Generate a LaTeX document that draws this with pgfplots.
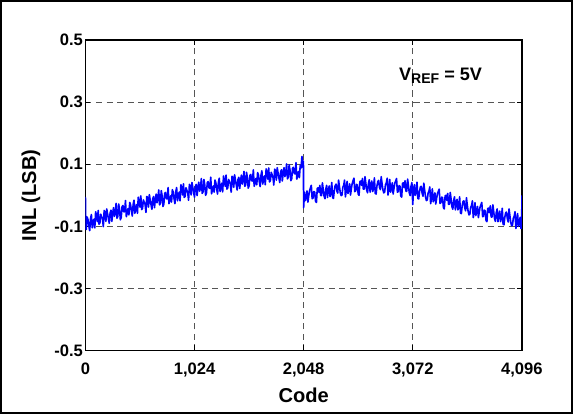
\documentclass[border=0pt]{standalone}
\usepackage{pgfplots}
\pgfplotsset{compat=1.18}
\usepackage{fontspec}
\setmainfont{Liberation Sans}
\definecolor{gridgray}{RGB}{85,85,85}
\begin{document}
\begin{tikzpicture}
\begin{axis}[
  at={(0,0)}, anchor=south west,
  scale only axis,
  width=433bp, height=308bp,
  xmin=0, xmax=4096, ymin=-0.5, ymax=0.5,
  xtick={0,1024,2048,3072,4096},
  xticklabels={\textbf{0},\textbf{1,024},\textbf{2,048},\textbf{3,072},\textbf{4,096}},
  ytick={-0.5,-0.3,-0.1,0.1,0.3,0.5},
  yticklabels={\textbf{-0.5},\textbf{-0.3},\textbf{-0.1},\textbf{0.1},\textbf{0.3},\textbf{0.5}},
  tick label style={font=\fontsize{16.5}{18}\selectfont},
  xticklabel style={yshift=-9bp},
  yticklabel style={xshift=1bp},
  tick align=inside,
  major tick length=5bp,
  tick style={black, line width=0.8bp},
  axis line style={black, line width=1.3bp},
  grid=major,
  major grid style={gridgray, line width=0.9bp, dash pattern=on 6bp off 4.5bp},
  xlabel={\textbf{Code}},
  ylabel={\textbf{INL (LSB)}},
  every axis x label/.style={at={(rel axis cs:0.5,0)}, anchor=center, yshift=-44bp, font=\fontsize{20}{22}\selectfont},
  every axis y label/.style={at={(rel axis cs:0,0.5)}, anchor=center, xshift=-54bp, rotate=90, font=\fontsize{20}{22}\selectfont},
  clip=true,
]
\addplot[blue, line width=1.6bp, line join=round] coordinates {
(0,-0.005) (4,-0.100) (8,-0.110)
(16,-0.070) (24,-0.078) (32,-0.098) (40,-0.114) (48,-0.076) (56,-0.062) (64,-0.105) (72,-0.089)
(80,-0.077) (88,-0.105) (96,-0.053) (104,-0.067) (112,-0.085) (120,-0.049) (128,-0.093) (136,-0.089)
(144,-0.061) (152,-0.069) (160,-0.075) (168,-0.101) (176,-0.049) (184,-0.053) (192,-0.084) (200,-0.044)
(208,-0.060) (216,-0.076) (224,-0.090) (232,-0.056) (240,-0.048) (248,-0.084) (256,-0.058) (264,-0.040)
(272,-0.068) (280,-0.056) (288,-0.026) (296,-0.074) (304,-0.068) (312,-0.028) (320,-0.045) (328,-0.079)
(336,-0.071) (344,-0.037) (352,-0.033) (360,-0.053) (368,-0.053) (376,-0.017) (384,-0.069) (392,-0.057)
(400,-0.043) (408,-0.063) (416,-0.023) (424,-0.031) (432,-0.051) (440,-0.067) (448,-0.030) (456,-0.016)
(464,-0.058) (472,-0.042) (480,-0.030) (488,-0.058) (496,-0.006) (504,-0.020) (512,-0.038) (520,-0.002)
(528,-0.046) (536,-0.042) (544,-0.015) (552,-0.023) (560,-0.029) (568,-0.055) (576,-0.004) (584,-0.008)
(592,-0.038) (600,0.002) (608,-0.015) (616,-0.031) (624,-0.045) (632,-0.011) (640,-0.004) (648,-0.040)
(656,-0.014) (664,0.004) (672,-0.024) (680,-0.012) (688,0.017) (696,-0.031) (704,-0.025) (712,0.015)
(720,-0.002) (728,-0.036) (736,-0.028) (744,0.006) (752,0.009) (760,-0.011) (768,-0.011) (776,0.025)
(784,-0.027) (792,-0.015) (800,-0.002) (808,-0.022) (816,0.018) (824,0.010) (832,-0.011) (840,-0.027)
(848,0.011) (856,0.025) (864,-0.018) (872,-0.002) (880,0.010) (888,-0.018) (896,0.034) (904,0.020)
(912,0.001) (920,0.037) (928,-0.007) (936,-0.003) (944,0.024) (952,0.016) (960,0.010) (968,-0.016)
(976,0.035) (984,0.031) (992,0.001) (1000,0.041) (1008,0.024) (1016,0.008) (1024,-0.006) (1032,0.028)
(1040,0.035) (1048,-0.001) (1056,0.024) (1064,0.042) (1072,0.013) (1080,0.025) (1088,0.054) (1096,0.006)
(1104,0.011) (1112,0.051) (1120,0.034) (1128,0.000) (1136,0.007) (1144,0.041) (1152,0.044) (1160,0.024)
(1168,0.022) (1176,0.058) (1184,0.005) (1192,0.017) (1200,0.030) (1208,0.010) (1216,0.049) (1224,0.041)
(1232,0.020) (1240,0.004) (1248,0.041) (1256,0.055) (1264,0.012) (1272,0.028) (1280,0.039) (1288,0.011)
(1296,0.062) (1304,0.048) (1312,0.029) (1320,0.065) (1328,0.020) (1336,0.024) (1344,0.051) (1352,0.043)
(1360,0.036) (1368,0.010) (1376,0.061) (1384,0.057) (1392,0.026) (1400,0.066) (1408,0.049) (1416,0.033)
(1424,0.017) (1432,0.051) (1440,0.058) (1448,0.022) (1456,0.047) (1464,0.065) (1472,0.036) (1480,0.048)
(1488,0.077) (1496,0.029) (1504,0.034) (1512,0.074) (1520,0.057) (1528,0.023) (1536,0.030) (1544,0.064)
(1552,0.067) (1560,0.047) (1568,0.046) (1576,0.082) (1584,0.029) (1592,0.041) (1600,0.054) (1608,0.034)
(1616,0.073) (1624,0.065) (1632,0.044) (1640,0.028) (1648,0.065) (1656,0.079) (1664,0.036) (1672,0.052)
(1680,0.062) (1688,0.034) (1696,0.085) (1704,0.071) (1712,0.052) (1720,0.088) (1728,0.043) (1736,0.047)
(1744,0.074) (1752,0.066) (1760,0.059) (1768,0.033) (1776,0.084) (1784,0.080) (1792,0.049) (1800,0.089)
(1808,0.072) (1816,0.056) (1824,0.041) (1832,0.075) (1840,0.082) (1848,0.046) (1856,0.071) (1864,0.089)
(1872,0.060) (1880,0.072) (1888,0.101) (1896,0.053) (1904,0.058) (1912,0.098) (1920,0.081) (1928,0.047)
(1936,0.053) (1944,0.087) (1952,0.090) (1960,0.070) (1968,0.069) (1976,0.105) (1984,0.052) (1992,0.064)
(2000,0.077) (2008,0.057) (2016,0.096) (2024,0.088) (2032,0.125) (2040,0.090) (2046,0.110) (2048,-0.040)
(2056,0.010) (2064,-0.017) (2072,-0.005) (2080,0.014) (2088,-0.022) (2096,-0.001) (2104,0.015) (2112,0.024)
(2120,0.032) (2128,-0.011) (2136,-0.009) (2144,0.012) (2152,0.010) (2160,-0.019) (2168,-0.023) (2176,0.022)
(2184,0.024) (2192,0.010) (2200,0.032) (2208,-0.001) (2216,-0.001) (2224,0.040) (2232,0.018) (2240,-0.003)
(2248,-0.011) (2256,0.020) (2264,0.032) (2272,-0.007) (2280,0.015) (2288,0.030) (2296,-0.004) (2304,0.009)
(2312,0.041) (2320,-0.008) (2328,-0.010) (2336,0.017) (2344,0.031) (2352,0.036) (2360,0.014) (2368,0.007)
(2376,0.049) (2384,0.028) (2392,0.008) (2400,-0.001) (2408,0.001) (2416,0.026) (2424,0.032) (2432,0.049)
(2440,-0.005) (2448,0.015) (2456,0.045) (2464,0.006) (2472,0.018) (2480,0.037) (2488,0.001) (2496,0.022)
(2504,0.038) (2512,0.047) (2520,0.055) (2528,0.012) (2536,0.014) (2544,0.035) (2552,0.033) (2560,0.004)
(2568,0.000) (2576,0.044) (2584,0.046) (2592,0.032) (2600,0.054) (2608,0.020) (2616,0.020) (2624,0.060)
(2632,0.038) (2640,0.016) (2648,0.008) (2656,0.038) (2664,0.050) (2672,0.010) (2680,0.032) (2688,0.046)
(2696,0.012) (2704,0.024) (2712,0.056) (2720,0.006) (2728,0.004) (2736,0.030) (2744,0.044) (2752,0.048)
(2760,0.026) (2768,0.018) (2776,0.060) (2784,0.038) (2792,0.018) (2800,0.008) (2808,0.010) (2816,0.034)
(2824,0.040) (2832,0.055) (2840,0.001) (2848,0.021) (2856,0.051) (2864,0.010) (2872,0.022) (2880,0.040)
(2888,0.004) (2896,0.023) (2904,0.039) (2912,0.046) (2920,0.054) (2928,0.010) (2936,0.012) (2944,0.031)
(2952,0.029) (2960,-0.002) (2968,-0.006) (2976,0.038) (2984,0.040) (2992,0.025) (3000,0.047) (3008,0.013)
(3016,0.013) (3024,0.052) (3032,0.030) (3040,0.007) (3048,-0.001) (3056,0.029) (3064,0.041) (3072,-0.030)
(3080,0.022) (3088,0.034) (3096,0.000) (3104,0.010) (3112,0.042) (3120,-0.010) (3128,-0.012) (3136,0.013)
(3144,0.027) (3152,0.029) (3160,0.007) (3168,-0.003) (3176,0.039) (3184,0.015) (3192,-0.005) (3200,-0.017)
(3208,-0.015) (3216,0.007) (3224,0.013) (3232,0.027) (3240,-0.027) (3248,-0.009) (3256,0.021) (3264,-0.021)
(3272,-0.009) (3280,0.008) (3288,-0.028) (3296,-0.010) (3304,0.006) (3312,0.012) (3320,0.020) (3328,-0.026)
(3336,-0.024) (3344,-0.006) (3352,-0.008) (3360,-0.040) (3368,-0.044) (3376,-0.002) (3384,0.000) (3392,-0.016)
(3400,0.006) (3408,-0.029) (3416,-0.029) (3424,0.009) (3432,-0.013) (3440,-0.037) (3448,-0.045) (3456,-0.017)
(3464,-0.005) (3472,-0.047) (3480,-0.025) (3488,-0.013) (3496,-0.047) (3504,-0.037) (3512,-0.005) (3520,-0.057)
(3528,-0.059) (3536,-0.034) (3544,-0.020) (3552,-0.018) (3560,-0.040) (3568,-0.050) (3576,-0.008) (3584,-0.032)
(3592,-0.052) (3600,-0.063) (3608,-0.061) (3616,-0.039) (3624,-0.033) (3632,-0.018) (3640,-0.072) (3648,-0.054)
(3656,-0.024) (3664,-0.065) (3672,-0.053) (3680,-0.036) (3688,-0.072) (3696,-0.054) (3704,-0.038) (3712,-0.031)
(3720,-0.023) (3728,-0.069) (3736,-0.067) (3744,-0.048) (3752,-0.050) (3760,-0.081) (3768,-0.085) (3776,-0.043)
(3784,-0.041) (3792,-0.056) (3800,-0.034) (3808,-0.070) (3816,-0.070) (3824,-0.031) (3832,-0.053) (3840,-0.076)
(3848,-0.084) (3856,-0.056) (3864,-0.044) (3872,-0.085) (3880,-0.063) (3888,-0.051) (3896,-0.085) (3904,-0.074)
(3912,-0.042) (3920,-0.093) (3928,-0.095) (3936,-0.071) (3944,-0.057) (3952,-0.054) (3960,-0.076) (3968,-0.086)
(3976,-0.044) (3984,-0.067) (3992,-0.087) (4000,-0.098) (4008,-0.096) (4016,-0.074) (4024,-0.068) (4032,-0.053)
(4040,-0.107) (4048,-0.089) (4056,-0.059) (4064,-0.100) (4072,-0.088) (4080,-0.071) (4088,-0.107) (4092,-0.105)
(4095,-0.100) (4096,0.000)
};
\node[anchor=base west, inner sep=0pt, font=\fontsize{18}{20}\selectfont\bfseries] at (axis cs:2942,0.371) {V\raisebox{-3.5bp}{\fontsize{14}{16}\selectfont REF} = 5V};
\end{axis}
\draw[black, line width=1.5bp] (-84bp,-62bp) rectangle (483bp,347bp);
\end{tikzpicture}
\end{document}
